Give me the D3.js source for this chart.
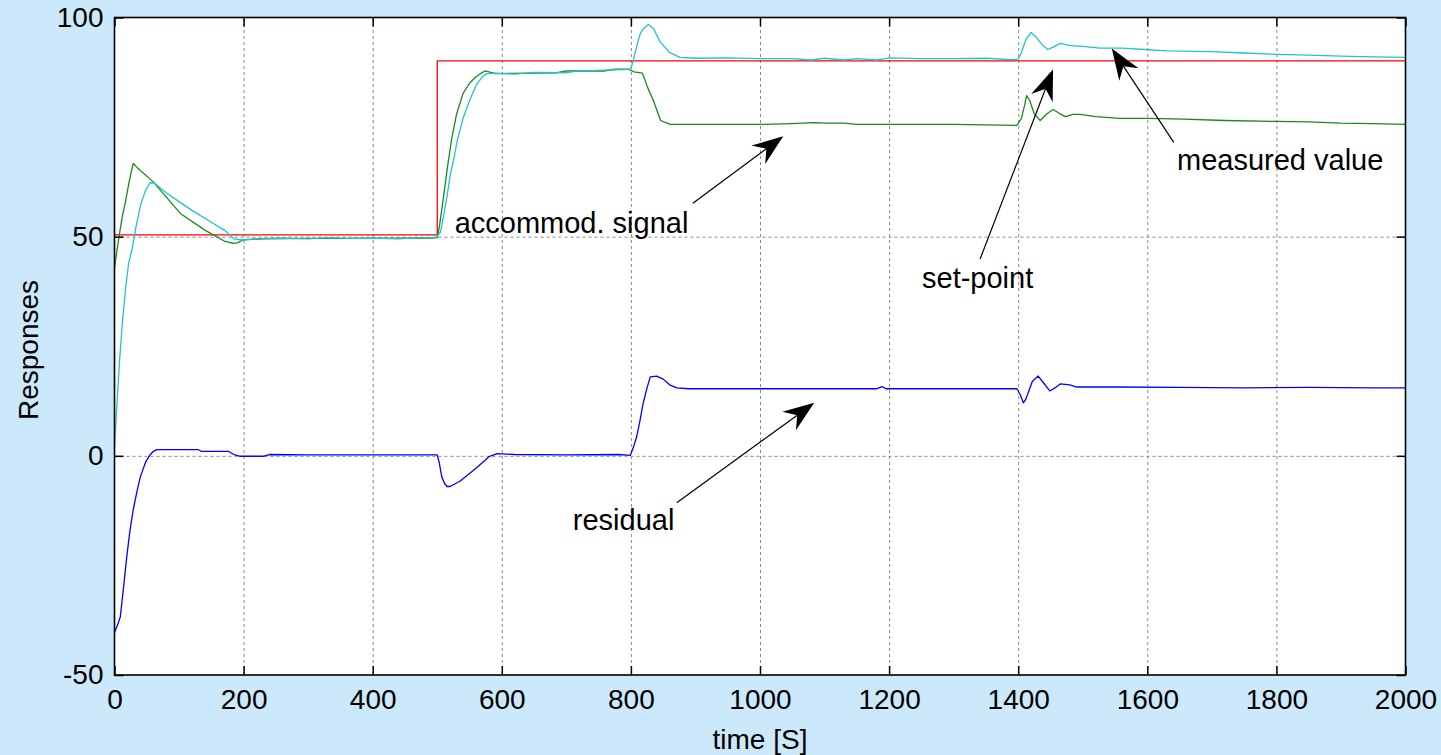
<!DOCTYPE html>
<html>
<head>
<meta charset="utf-8">
<script src="https://cdn.jsdelivr.net/npm/d3@7"></script>
<style>
  body { margin: 0; background: #cbe9fb; }
  svg { display: block; font-family: Arial, "Liberation Sans", sans-serif; }
  .tick text { font-size: 28px; fill: #000; }
  .grid line { stroke: #8a8a8a; stroke-dasharray: 3,3; stroke-width: 1; }
  .grid .domain { display: none; }
</style>
</head>
<body>
<div class="responsechart"></div>
<script>
var svgWidth = 1441;
var svgHeight = 755;

var margin = { top: 17.5, right: 35.5, bottom: 80, left: 114.5 };
var width = svgWidth - margin.left - margin.right;
var height = svgHeight - margin.top - margin.bottom;

// tick values
var xTicks = [0, 200, 400, 600, 800, 1000, 1200, 1400, 1600, 1800, 2000];
var yTicks = [-50, 0, 50, 100];

// set-point (red)
var setT = [0, 500, 500, 2000];
var setV = [50.4, 50.4, 90.1, 90.1];

// measured value (cyan)
var measT = [0, 3, 8, 12, 17, 22, 27, 33, 40, 48, 55, 62, 80, 100, 120, 150, 170, 185, 195, 210, 230, 260, 300, 330, 360, 400, 440, 470, 498,
  505, 510, 515, 520, 526, 531, 540, 550, 560, 570, 577, 590, 620, 650, 700, 720, 760, 790, 800,
  805, 810, 815, 820, 827, 835, 845, 860, 876, 900, 950, 1000, 1050, 1080, 1100, 1130, 1150, 1180, 1200, 1250, 1300, 1350, 1390, 1400,
  1405, 1412, 1420, 1428, 1437, 1446, 1455, 1465, 1481, 1500, 1527, 1560, 1597, 1630, 1700, 1750, 1800, 1850, 1900, 1950, 2000];
var measV = [2, 10, 22, 30, 38, 44, 47, 52, 57, 60.5, 62.3, 62.2, 60, 58, 56, 53.3, 51.5, 49.5, 49.3, 49.4, 49.6, 49.7, 49.5, 49.8, 49.6, 49.7, 49.5, 49.8, 49.8,
  51, 55, 59, 64, 68, 72, 77, 81, 84.5, 86.5, 87.2, 87.3, 87.1, 87.5, 87.4, 87.8, 88.0, 88.1, 88.3,
  91, 94, 96.5, 97.5, 98.4, 97.5, 94.5, 92, 90.9, 90.7, 90.8, 90.6, 90.6, 90.3, 90.7, 90.3, 90.6, 90.3, 90.8, 90.6, 90.6, 90.7, 90.4, 90.5,
  92, 95, 96.6, 95.5, 93.8, 92.7, 93.3, 94.1, 93.6, 93.4, 93.0, 93.0, 92.7, 92.4, 92.2, 91.9, 91.6, 91.4, 91.2, 91.0, 90.9];

// accommodation signal (green)
var accT = [0, 3, 7, 12, 17, 22, 27, 29, 35, 60, 102, 140, 170, 182, 190, 200, 230, 300, 400, 490, 500,
  503, 509, 515, 522, 530, 540, 550, 560, 568, 574, 580, 590, 650, 686, 700, 760, 776, 796,
  805, 818, 826, 835, 846, 861, 880, 1000, 1050, 1083, 1104, 1130, 1150, 1300, 1398,
  1405, 1410, 1413, 1418, 1425, 1434, 1444, 1454, 1463, 1473, 1485, 1496, 1520, 1558, 1600, 1656, 1720, 1800, 1850, 1900, 1950, 2000];
var accV = [43, 46, 50, 54.5, 58, 62, 65.5, 66.7, 65.8, 62.5, 55.3, 51.5, 49, 48.5, 48.6, 49.3, 49.5, 49.6, 49.6, 49.7, 49.8,
  52, 58.3, 65, 72, 78, 82.7, 85, 86.5, 87.3, 87.8, 87.6, 87.2, 87.3, 87.4, 87.8, 87.8, 88.2, 88.2,
  87.6, 87.3, 84, 81, 76.5, 75.6, 75.6, 75.6, 75.8, 76.0, 75.9, 75.9, 75.6, 75.6, 75.4,
  77, 80, 82.2, 81, 78, 76.5, 78, 79, 78.2, 77.4, 77.9, 77.9, 77.4, 77.0, 77.0, 76.8, 76.5, 76.3, 76.2, 75.9, 75.8, 75.6];

// residual (blue)
var resT = [0, 5, 9, 14, 19, 24, 29, 35, 40, 48, 55, 60, 66, 130, 135, 177, 185, 195, 230, 240, 300, 400, 500,
  503, 507, 511, 515, 520, 525, 535, 551, 565, 580, 593, 620, 700, 780, 799,
  804, 809, 814, 819, 825, 830, 840, 850, 860, 871, 890, 1000, 1180, 1189, 1195, 1300, 1398,
  1403, 1408, 1412, 1416, 1422, 1431, 1440, 1449, 1457, 1465, 1480, 1491, 1550, 1650, 1750, 1850, 1950, 2000];
var resV = [-40.3, -38.5, -36.7, -30, -23, -17, -12.3, -8, -4.8, -1.5, 0.2, 1.0, 1.4, 1.4, 1.0, 1.0, 0.3, -0.1, -0.1, 0.3, 0.2, 0.2, 0.2,
  -1.5, -4.8, -6.2, -7.0, -7.0, -6.6, -5.8, -3.9, -2.2, -0.2, 0.5, 0.3, 0.2, 0.3, 0.1,
  2, 4.4, 8, 12, 15.5, 18, 18.2, 17.5, 16.2, 15.5, 15.3, 15.3, 15.3, 15.8, 15.3, 15.3, 15.3,
  14, 12.1, 13, 14.6, 17, 18.2, 16.5, 14.8, 15.5, 16.4, 16.2, 15.7, 15.7, 15.6, 15.5, 15.6, 15.5, 15.5];

// annotations: label, text anchor point, arrow tail, arrow tip (data units)
var noteLabels = ["accommod. signal", "residual", "set-point", "measured value"];
var noteTextT = [527, 710, 1251, 1646];
var noteTextV = [50.8, -16.9, 38.3, 65.1];
var noteTailT = [896, 871, 1341, 1641];
var noteTailV = [57.6, -10.7, 44.9, 71.5];
var noteTipT = [1036, 1084, 1454, 1545];
var noteTipV = [72.9, 12.1, 88.2, 92.9];

var svg = d3.select(".responsechart")
  .append("svg")
  .attr("width", svgWidth)
  .attr("height", svgHeight);

var chartGroup = svg.append("g")
  .attr("transform", `translate(${margin.left}, ${margin.top})`);

var xLinearScale = d3.scaleLinear().domain([0, 2000]).range([0, width]);
var yLinearScale = d3.scaleLinear().domain([-50, 100]).range([height, 0]);

// plain number labels (ascii minus, no thousands separator)
var plainFormat = d => String(d);

// white plot area
chartGroup.append("rect")
  .attr("width", width)
  .attr("height", height)
  .attr("fill", "#fff");

// dotted grid
chartGroup.append("g")
  .classed("grid", true)
  .attr("transform", `translate(0, ${height})`)
  .call(d3.axisBottom(xLinearScale).tickValues(xTicks.slice(1, -1)).tickSize(-height).tickFormat(""));

chartGroup.append("g")
  .classed("grid", true)
  .call(d3.axisLeft(yLinearScale).tickValues(yTicks.slice(1, -1)).tickSize(-width).tickFormat(""));

// lines
var line = d3.line()
  .x(d => xLinearScale(d[0]))
  .y(d => yLinearScale(d[1]));

function zipSeries(ts, vs) {
  return ts.map((t, i) => [t, vs[i]]);
}

var series = [
  { t: setT, v: setV, color: "#ff0000" },
  { t: accT, v: accV, color: "#1b8a1b" },
  { t: measT, v: measV, color: "#22c4c8" },
  { t: resT, v: resV, color: "#0000ff" }
];

series.forEach(function(s) {
  chartGroup.append("path")
    .datum(zipSeries(s.t, s.v))
    .attr("fill", "none")
    .attr("stroke", s.color)
    .attr("stroke-width", 1.3)
    .attr("stroke-linejoin", "round")
    .attr("d", line);
});

// axes with inward ticks
var bottomAxis = d3.axisBottom(xLinearScale).tickValues(xTicks).tickFormat(plainFormat)
  .tickSizeInner(-9).tickSizeOuter(0).tickPadding(14);
var leftAxis = d3.axisLeft(yLinearScale).tickValues(yTicks).tickFormat(plainFormat)
  .tickSizeInner(-9).tickSizeOuter(0).tickPadding(11);

var xAxis = chartGroup.append("g")
  .attr("transform", `translate(0, ${height})`)
  .call(bottomAxis);

var yAxis = chartGroup.append("g")
  .call(leftAxis);

chartGroup.append("g")
  .call(d3.axisTop(xLinearScale).tickValues(xTicks).tickSizeInner(-9).tickSizeOuter(0).tickFormat(""));

chartGroup.append("g")
  .attr("transform", `translate(${width}, 0)`)
  .call(d3.axisRight(yLinearScale).tickValues(yTicks).tickSizeInner(-9).tickSizeOuter(0).tickFormat(""));

chartGroup.selectAll(".tick line").filter(function() {
  return !this.parentNode.parentNode.classList.contains("grid");
}).attr("stroke", "#000").attr("stroke-width", 1.5);
chartGroup.selectAll(".domain").filter(function() {
  return !this.parentNode.classList.contains("grid");
}).remove();

xAxis.selectAll("text").attr("dy", "0.71em");

// box
chartGroup.append("rect")
  .attr("width", width)
  .attr("height", height)
  .attr("fill", "none")
  .attr("stroke", "#000")
  .attr("stroke-width", 1.6);

// annotations
noteLabels.forEach(function(label, i) {
  chartGroup.append("text")
    .attr("x", xLinearScale(noteTextT[i]))
    .attr("y", yLinearScale(noteTextV[i]))
    .attr("font-size", 29)
    .text(label);

  var x0 = xLinearScale(noteTailT[i]), y0 = yLinearScale(noteTailV[i]);
  var x1 = xLinearScale(noteTipT[i]), y1 = yLinearScale(noteTipV[i]);
  var dx = x1 - x0, dy = y1 - y0;
  var len = Math.sqrt(dx * dx + dy * dy);
  var ux = dx / len, uy = dy / len;
  var px = -uy, py = ux;
  var headLen = 31, notch = 21, half = 11.5;

  chartGroup.append("line")
    .attr("x1", x0).attr("y1", y0)
    .attr("x2", x1 - ux * notch).attr("y2", y1 - uy * notch)
    .attr("stroke", "#000")
    .attr("stroke-width", 1.2);

  var bx = x1 - ux * headLen, by = y1 - uy * headLen;
  var head = [
    [x1, y1],
    [bx + px * half, by + py * half],
    [x1 - ux * notch, y1 - uy * notch],
    [bx - px * half, by - py * half]
  ];
  chartGroup.append("path")
    .attr("d", "M" + head.map(p => p.join(",")).join("L") + "Z")
    .attr("fill", "#000");
});

// axis labels
svg.append("text")
  .attr("x", margin.left + width / 2)
  .attr("y", 749)
  .attr("text-anchor", "middle")
  .attr("font-size", 28)
  .text("time [S]");

svg.append("text")
  .attr("transform", "rotate(-90)")
  .attr("x", -350)
  .attr("y", 38)
  .attr("text-anchor", "middle")
  .attr("font-size", 28)
  .text("Responses");
</script>
</body>
</html>
